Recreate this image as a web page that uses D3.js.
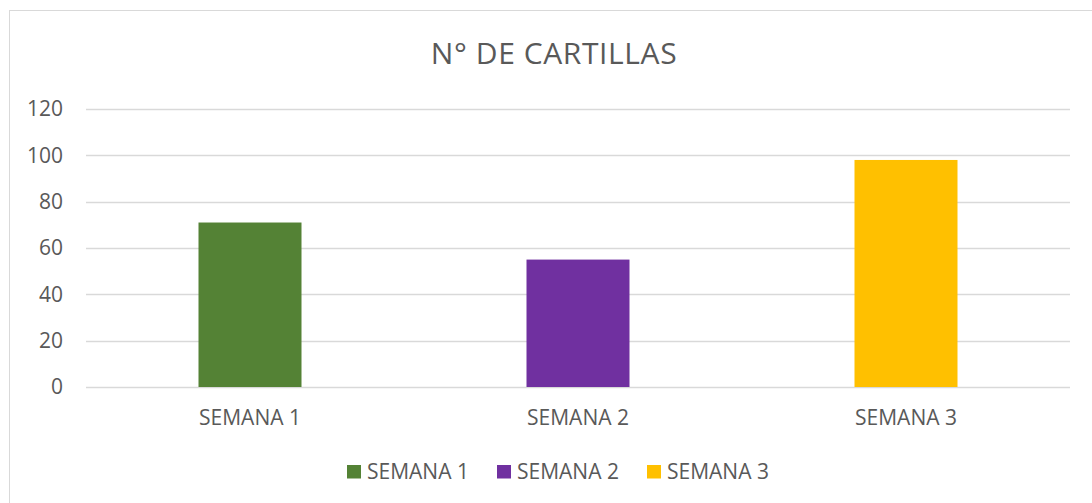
<!DOCTYPE html>
<html>
<head>
<meta charset="utf-8">
<script src="https://cdn.jsdelivr.net/npm/d3@7"></script>
<style>
  html, body { margin: 0; padding: 0; background: #fff; }
  #wrapper { width: 1092px; height: 503px; overflow: hidden; }
  text { font-family: "Open Sans", sans-serif; fill: #595959; }
</style>
</head>
<body>
<div id="wrapper"></div>
<script>
const chartTitle = "N° DE CARTILLAS"
const categories = ["SEMANA 1", "SEMANA 2", "SEMANA 3"]
const values = [71, 55, 98]
const barColors = ["#548235", "#7030a0", "#ffc000"]
const yTicks = [0, 20, 40, 60, 80, 100, 120]

function drawChart() {
    const dimensions = createChartDimensions()
    const svg = drawCanvas(dimensions)
    const {xScale, yScale} = createScales(dimensions)
    drawGrid(svg, yScale, dimensions)
    drawBars(svg, xScale, yScale)
    drawPeripherals(svg, xScale, yScale, dimensions)
    drawLegend(svg, dimensions)
}

function createChartDimensions() {
    return {
        width: 1092,
        height: 503,
        plot: {left: 86, right: 1070, top: 109, bottom: 387},
    }
}

function drawCanvas(dimensions) {
    const svg = d3.select("#wrapper")
        .append("svg")
        .attr("width", dimensions.width)
        .attr("height", dimensions.height)
    // chart frame, right and bottom edges run past the picture
    svg.append("rect")
        .attr("x", 9.5)
        .attr("y", 10.5)
        .attr("width", 1092)
        .attr("height", 510)
        .attr("fill", "#fff")
        .attr("stroke", "#d9d9d9")
    return svg
}

function createScales(dimensions) {
    const gap = 1 - 103 / 328
    const xScale = d3.scaleBand()
        .domain(categories)
        .range([dimensions.plot.left, dimensions.plot.right])
        .paddingInner(gap)
        .paddingOuter(gap / 2)
    const yScale = d3.scaleLinear()
        .domain([0, 120])
        .range([dimensions.plot.bottom, dimensions.plot.top])
    return {xScale, yScale}
}

function drawGrid(svg, yScale, dimensions) {
    svg.append("g")
        .selectAll("line")
        .data(yTicks)
        .join("line")
        .attr("x1", dimensions.plot.left)
        .attr("x2", dimensions.plot.right)
        .attr("y1", d => Math.round(yScale(d)) + 0.5)
        .attr("y2", d => Math.round(yScale(d)) + 0.5)
        .attr("stroke", "#d9d9d9")
        .attr("stroke-width", 1.3)
}

function drawBars(svg, xScale, yScale) {
    svg.append("g")
        .selectAll("rect")
        .data(categories)
        .join("rect")
        .attr("x", d => xScale(d))
        .attr("width", xScale.bandwidth())
        .attr("y", (d, i) => yScale(values[i]))
        .attr("height", (d, i) => yScale(0) - yScale(values[i]))
        .attr("fill", (d, i) => barColors[i])
}

function drawPeripherals(svg, xScale, yScale, dimensions) {
    const yAxisGenerator = d3.axisLeft(yScale)
        .tickValues(yTicks)
        .tickSize(0)
        .tickPadding(23)
    const yAxis = svg.append("g")
        .attr("transform", `translate(${dimensions.plot.left},0)`)
        .call(yAxisGenerator)
    yAxis.select(".domain").remove()
    yAxis.selectAll("text")
        .attr("font-size", 21)
        .attr("font-family", "Open Sans")
        .attr("fill", "#595959")

    const xAxisGenerator = d3.axisBottom(xScale)
        .tickSize(0)
        .tickPadding(23)
    const xAxis = svg.append("g")
        .attr("transform", `translate(0,${dimensions.plot.bottom})`)
        .call(xAxisGenerator)
    xAxis.select(".domain").remove()
    xAxis.selectAll("text")
        .attr("font-size", 21)
        .attr("font-family", "Open Sans")
        .attr("fill", "#595959")

    svg.append("text")
        .attr("x", 554)
        .attr("y", 64)
        .attr("text-anchor", "middle")
        .attr("font-size", 30)
        .attr("letter-spacing", 0.6)
        .text(chartTitle)
}

function drawLegend(svg, dimensions) {
    const legendX = d3.scalePoint()
        .domain(categories)
        .range([347, 647])
    const items = svg.append("g")
        .selectAll("g")
        .data(categories)
        .join("g")
        .attr("transform", d => `translate(${legendX(d)},465)`)
    items.append("rect")
        .attr("width", 14)
        .attr("height", 13.5)
        .attr("fill", (d, i) => barColors[i])
    items.append("text")
        .attr("x", 20)
        .attr("y", 14)
        .attr("font-size", 21)
        .text(d => d)
}

drawChart()
</script>
</body>
</html>
